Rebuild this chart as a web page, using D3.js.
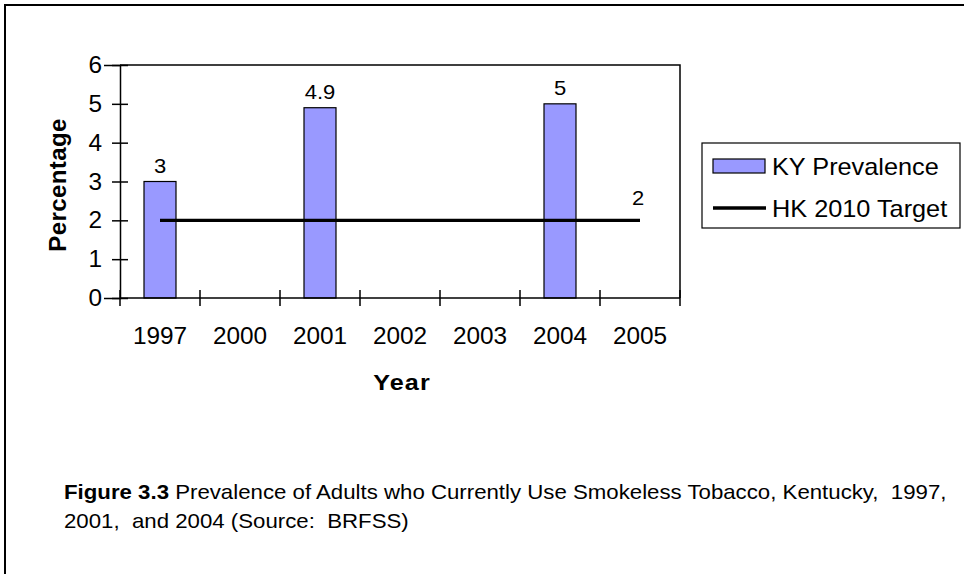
<!DOCTYPE html>
<html>
<head>
<meta charset="utf-8">
<script src="https://cdn.jsdelivr.net/npm/d3@7"></script>
<style>
  html, body { margin: 0; padding: 0; background: #fff; }
  svg { display: block; }
  text { font-family: "Liberation Sans", Arial, sans-serif; fill: #000; }
</style>
</head>
<body>
<svg id="chart" width="964" height="574"></svg>
<script>
// ---- data ----
const years = ["1997", "2000", "2001", "2002", "2003", "2004", "2005"];
const kyPrevalence = [3, null, 4.9, null, null, 5, null];
const hkTarget = [2, 2, 2, 2, 2, 2, 2];
const yTicks = [0, 1, 2, 3, 4, 5, 6];
const seriesNames = ["KY Prevalence", "HK 2010 Target"];
const captionBold = "Figure 3.3";
const captionLine1 = " Prevalence of Adults who Currently Use Smokeless Tobacco, Kentucky,  1997,";
const captionLine2 = "2001,  and 2004 (Source:  BRFSS)";

// ---- layout ----
const plot = { left: 120, right: 680, top: 65, bottom: 298 };
const barColor = "#9999FF";

const svg = d3.select("#chart");

function txt(g, x, y, s, size, sx, anchor, weight) {
  return g.append("text")
    .attr("transform", `translate(${x},${y}) scale(${sx},1)`)
    .attr("font-size", size)
    .attr("text-anchor", anchor || "start")
    .attr("font-weight", weight || "normal")
    .style("white-space", "pre")
    .text(s);
}

// outer frame (left + top edges)
svg.append("path")
  .attr("d", "M5,574 L5,5 L964,5")
  .attr("fill", "none").attr("stroke", "#000").attr("stroke-width", 2);

const x = d3.scaleBand().domain(years)
  .range([plot.left, plot.right]).paddingInner(0.6).paddingOuter(0.3);
const y = d3.scaleLinear().domain([0, 6]).range([plot.bottom, plot.top]);

const g = svg.append("g");

// plot frame (top + right)
g.append("path")
  .attr("d", `M${plot.left},${y(6)} L${plot.right},${y(6)} L${plot.right},${y(0)}`)
  .attr("fill", "none").attr("stroke", "#000").attr("stroke-width", 1.5);

// bars
const barData = years.map((yr, i) => ({ yr, v: kyPrevalence[i] })).filter(d => d.v != null);
g.selectAll("rect.bar").data(barData).enter().append("rect")
  .attr("class", "bar")
  .attr("x", d => x(d.yr))
  .attr("y", d => y(d.v))
  .attr("width", x.bandwidth())
  .attr("height", d => y(0) - y(d.v))
  .attr("fill", barColor).attr("stroke", "#000").attr("stroke-width", 1.2);

// bar labels
barData.forEach(d => {
  txt(g, x(d.yr) + x.bandwidth() / 2, y(d.v) - 9, String(d.v), 20, 1.1, "middle");
});

// target line
const cx = yr => x(yr) + x.bandwidth() / 2;
const lineData = years.map((yr, i) => ({ yr, v: hkTarget[i] }));
g.append("path")
  .datum(lineData)
  .attr("d", d3.line().x(d => cx(d.yr)).y(d => y(d.v)))
  .attr("fill", "none").attr("stroke", "#000").attr("stroke-width", 3.4);
const last = lineData[lineData.length - 1];
txt(g, cx(last.yr) - 2, y(last.v) - 15, String(last.v), 20, 1.1, "middle");

// y axis
const yAxis = g.append("g").attr("transform", `translate(${plot.left},0)`)
  .call(d3.axisLeft(y).tickValues(yTicks).tickSize(16).tickFormat(""));
yAxis.select(".domain").attr("stroke", "#000").attr("stroke-width", 1.5);
yAxis.selectAll(".tick line").attr("x1", 8).attr("x2", -8).attr("stroke", "#000").attr("stroke-width", 1.5);
yTicks.forEach(t => txt(g, 102, y(t) + 8, String(t), 23, 1.06, "end"));

// x axis
const step = x.step();
const boundaries = d3.range(years.length + 1).map(i => plot.left + i * step);
g.append("line")
  .attr("x1", plot.left).attr("x2", plot.right)
  .attr("y1", y(0)).attr("y2", y(0))
  .attr("stroke", "#000").attr("stroke-width", 1.5);
g.selectAll("line.xtick").data(boundaries).enter().append("line")
  .attr("class", "xtick")
  .attr("x1", d => d).attr("x2", d => d)
  .attr("y1", y(0) - 8).attr("y2", y(0) + 8)
  .attr("stroke", "#000").attr("stroke-width", 1.5);
years.forEach(yr => txt(g, cx(yr), 344, yr, 23, 1.06, "middle"));

// axis titles
txt(g, 402, 390, "Year", 22.5, 1.12, "middle", "bold").attr("letter-spacing", 1);
g.append("text")
  .attr("transform", `translate(66,185) rotate(-90)`)
  .attr("font-size", 24).attr("font-weight", "bold")
  .attr("text-anchor", "middle").attr("letter-spacing", 0.4)
  .text("Percentage");

// legend
const lg = svg.append("g");
lg.append("rect").attr("x", 702).attr("y", 143).attr("width", 258).attr("height", 85)
  .attr("fill", "#fff").attr("stroke", "#000").attr("stroke-width", 1.2);
lg.append("rect").attr("x", 713).attr("y", 159).attr("width", 52).attr("height", 14)
  .attr("fill", barColor).attr("stroke", "#000").attr("stroke-width", 1.2);
lg.append("line").attr("x1", 713).attr("x2", 766).attr("y1", 208).attr("y2", 208)
  .attr("stroke", "#000").attr("stroke-width", 3.4);
txt(lg, 772, 175, seriesNames[0], 23, 1.1, "start");
txt(lg, 772, 217, seriesNames[1], 23, 1.1, "start");

// caption
const cap = svg.append("g");
const t1 = cap.append("text")
  .attr("transform", `translate(64,499) scale(1.09,1)`)
  .attr("font-size", 20.4).style("white-space", "pre");
t1.append("tspan").attr("font-weight", "bold").text(captionBold);
t1.append("tspan").text(captionLine1);
txt(cap, 64, 528, captionLine2, 20.4, 1.09, "start");
</script>
</body>
</html>
